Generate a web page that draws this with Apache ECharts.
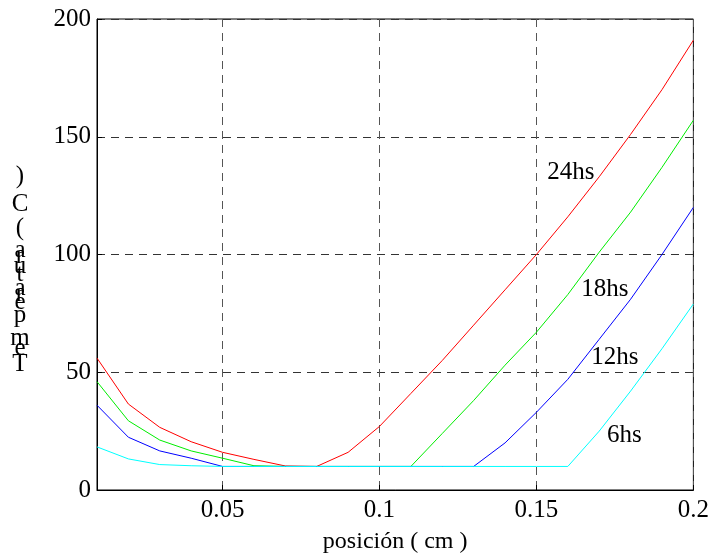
<!DOCTYPE html>
<html>
<head>
<meta charset="utf-8">
<script src="https://cdn.jsdelivr.net/npm/echarts@6/dist/echarts.min.js"></script>
<style>
  html, body { margin: 0; padding: 0; background: #fff; }
  #chart { width: 712px; height: 559px; }
</style>
</head>
<body>
<div id="chart"></div>
<script>
// posición (cm)
var posiciones = [0.01, 0.02, 0.03, 0.04, 0.05, 0.06, 0.07, 0.08, 0.09, 0.10,
                  0.11, 0.12, 0.13, 0.14, 0.15, 0.16, 0.17, 0.18, 0.19, 0.20];
var temp24 = [56, 36.5, 26.6, 20.5, 16, 13, 10.2, 10, 16, 27, 41, 55, 70, 85, 100, 116, 133, 151, 170, 191];
var temp18 = [46, 29.4, 21.2, 16.6, 13.5, 10.3, 10, 10, 10, 10, 10, 24, 38, 53, 67, 83, 101, 118, 137, 157];
var temp12 = [36, 22.4, 16.6, 13.5, 10, 10, 10, 10, 10, 10, 10, 10, 10, 20, 33, 47, 64, 81, 100, 120];
var temp6  = [18.3, 13.2, 10.8, 10.3, 10, 10, 10, 10, 10, 10, 10, 10, 10, 10, 10, 10, 25, 42, 60, 79];
var xTicks = [0.05, 0.1, 0.15, 0.2];
var seriesNames = ['24hs', '18hs', '12hs', '6hs'];
var seriesColors = ['#ff0000', '#00ee00', '#0000ff', '#00ffff'];
// where each curve gets its name (data coords)
var labelPos = [[0.161, 135], [0.1718, 85], [0.175, 56.5], [0.178, 23]];

// y-axis title, stacked letters as in the original figure
var yTitleChars = [')', 'C', '(', 'a', 'r', 'u', 't', 'a', 'r', 'e', 'p', 'm', 'e', 'T'];
var yTitleY     = [176, 204, 228, 250, 256, 266, 274, 288, 294, 302, 315, 338, 348, 364];

var chart = echarts.init(document.getElementById('chart'));
var font = 'Liberation Serif';
var allSeries = [temp24, temp18, temp12, temp6];

var series = allSeries.map(function (vals, i) {
  return {
    name: seriesNames[i],
    type: 'line',
    data: posiciones.map(function (x, k) { return [x, vals[k]]; }),
    symbol: 'none',
    lineStyle: { color: seriesColors[i], width: 1 },
    animation: false
  };
});
series.push({
  type: 'scatter',
  data: labelPos.map(function (p, i) { return { value: p, name: seriesNames[i] }; }),
  symbolSize: 0,
  itemStyle: { opacity: 1 },
  label: {
    show: true,
    position: 'inside',
    formatter: '{b}',
    fontFamily: font,
    fontSize: 25,
    color: '#000'
  },
  animation: false,
  silent: true
});

chart.setOption({
  backgroundColor: '#fff',
  grid: {
    left: 97, right: 18, top: 19, bottom: 69,
    show: true, borderColor: '#000', borderWidth: 1
  },
  xAxis: {
    type: 'value',
    min: 0.01, max: 0.2,
    name: 'posición ( cm )',
    nameLocation: 'middle',
    nameGap: 40,
    nameTextStyle: { fontFamily: font, fontSize: 24, color: '#000' },
    axisLine: { lineStyle: { color: '#000' } },
    axisTick: { inside: true, length: 5, customValues: xTicks, lineStyle: { color: '#000' } },
    axisLabel: {
      customValues: xTicks,
      fontFamily: font, fontSize: 25, color: '#000', margin: 8,
      formatter: function (v) { return String(+v.toFixed(2)); }
    },
    splitLine: { show: true, lineStyle: { color: '#555', type: [8, 6], width: 1 } }
  },
  yAxis: {
    type: 'value',
    min: 0, max: 200, interval: 50,
    axisLine: { lineStyle: { color: '#000' } },
    axisTick: { inside: true, length: 5, lineStyle: { color: '#000' } },
    axisLabel: { fontFamily: font, fontSize: 25, color: '#000', margin: 6 },
    splitLine: { show: true, lineStyle: { color: '#333', type: [8, 6], width: 1 } }
  },
  graphic: yTitleChars.map(function (c, i) {
    return {
      type: 'text',
      x: 20,
      y: yTitleY[i],
      style: { text: c, fontFamily: font, fontSize: 25, fill: '#000', align: 'center', verticalAlign: 'middle' },
      silent: true
    };
  }),
  series: series
});
</script>
</body>
</html>
